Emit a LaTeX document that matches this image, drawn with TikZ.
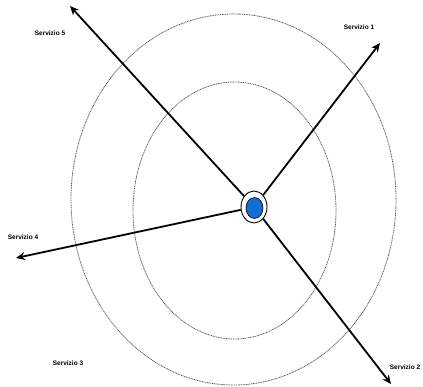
\documentclass[tikz,border=0pt]{standalone}
\usepackage{fontspec}
\setmainfont{Liberation Sans}
\usetikzlibrary{arrows.meta,shapes.geometric}
\begin{document}
\begin{tikzpicture}[x=1pt,y=-1pt,
  ring/.style={draw=gray!70!black,line width=0.8pt,dash pattern=on 1pt off 0.7pt},
  arr/.style={line width=1.8pt,-{Stealth[length=9pt,width=8pt,inset=3pt]}},
  lbl/.style={font=\fontsize{6.5}{7}\selectfont\bfseries,inner sep=0pt}]
\useasboundingbox (0,0) rectangle (423,387);
\draw[ring] (233.5,199.5) ellipse [x radius=162.5,y radius=185.5];
\draw[ring] (234.5,210.5) ellipse [x radius=101.5,y radius=128.5];
\node[ellipse,draw,line width=0.9pt,fill=white,minimum width=26pt,minimum height=32pt,inner sep=0pt] (c) at (254,207) {};
\node[ellipse,draw,line width=0.6pt,fill={rgb,255:red,20;green,110;blue,210},minimum width=17pt,minimum height=21pt,inner sep=0pt] (cb) at (254.5,208) {};
\coordinate (t5) at (70,6);
\coordinate (t1) at (380,43);
\coordinate (t4) at (16,258);
\coordinate (t2) at (391,384);
\draw[arr] (c) -- (t5);
\draw[arr] (c) -- (t1);
\draw[arr] (c) -- (t4);
\draw[arr] (c) -- (t2);
\node[lbl] (s5) at (50,33) {Servizio 5};
\node[lbl] (s1) at (359,27) {Servizio 1};
\node[lbl] (s4) at (23,237) {Servizio 4};
\node[lbl] (s3) at (68,363) {Servizio 3};
\node[lbl] (s2) at (405,367) {Servizio 2};
\end{tikzpicture}
\end{document}
